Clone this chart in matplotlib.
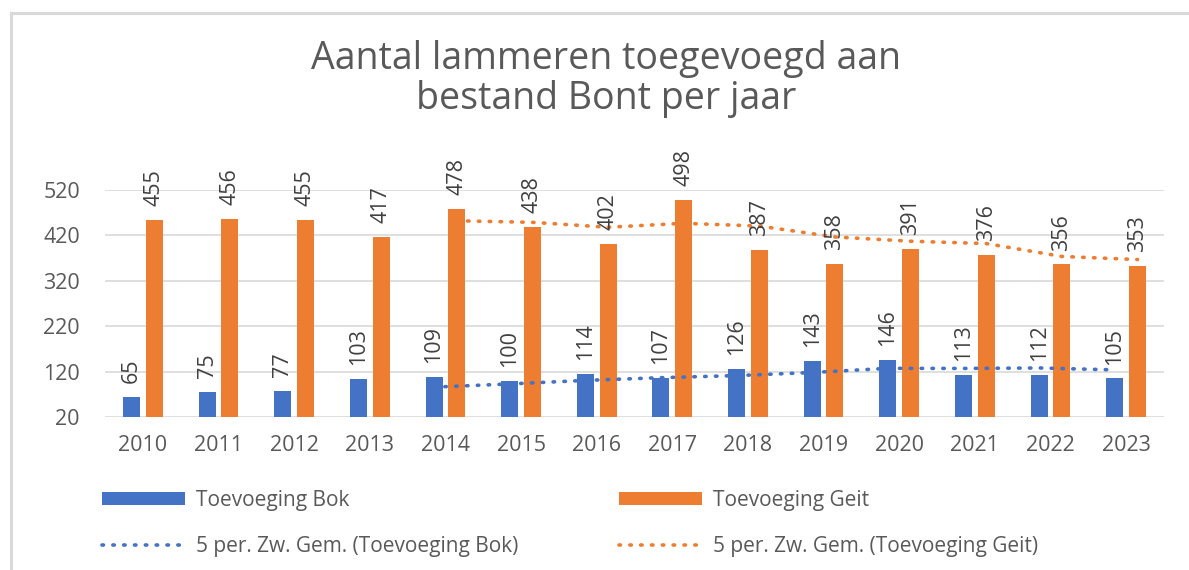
import matplotlib
matplotlib.use("Agg")
import matplotlib.pyplot as plt
import numpy as np
import pandas as pd
from matplotlib.lines import Line2D
from matplotlib.patches import Patch

years = ["2010", "2011", "2012", "2013", "2014", "2015", "2016", "2017",
         "2018", "2019", "2020", "2021", "2022", "2023"]
bok = [65, 75, 77, 103, 109, 100, 114, 107, 126, 143, 146, 113, 112, 105]
geit = [455, 456, 455, 417, 478, 438, 402, 498, 387, 358, 391, 376, 356, 353]
yticks = [20, 120, 220, 320, 420, 520]

title = "Aantal lammeren toegevoegd aan\nbestand Bont per jaar"
lbl_bok = "Toevoeging Bok"
lbl_geit = "Toevoeging Geit"
lbl_ma_bok = "5 per. Zw. Gem. (Toevoeging Bok)"
lbl_ma_geit = "5 per. Zw. Gem. (Toevoeging Geit)"

BLUE = "#4472C4"
ORANGE = "#ED7D31"
TXT = "#595959"
GRID = "#D9D9D9"

plt.rcParams['font.family'] = ['Open Sans', 'DejaVu Sans']

fig = plt.figure(figsize=(11.89, 5.70), dpi=100)
ax = fig.add_axes([105/1189, 1-417/570, 1059/1189, 227/570])

x = np.arange(len(years))
w = 0.225
off = 0.15
ax.bar(x - off, bok, w, color=BLUE, zorder=3)
ax.bar(x + off, geit, w, color=ORANGE, zorder=3)

ma_bok = pd.Series(bok).rolling(5).mean()
ma_geit = pd.Series(geit).rolling(5).mean()
ls = (0, (0.4, 2.6))
ax.plot(x - off, ma_bok, color=BLUE, lw=2.6, linestyle=ls,
        dash_capstyle='round', zorder=4)
ax.plot(x + off, ma_geit, color=ORANGE, lw=2.6, linestyle=ls,
        dash_capstyle='round', zorder=4)

for xs, vals in ((x - off, bok), (x + off, geit)):
    for xi, v in zip(xs, vals):
        ax.annotate(str(v), (xi, v), xytext=(0, 10), textcoords='offset points',
                    rotation=90, ha='center', va='bottom', fontsize=15.5,
                    color='#404040', annotation_clip=False, zorder=5)

ax.set_xlim(-0.5, len(years) - 0.5)
ax.set_ylim(20, 520)
ax.set_yticks(yticks)
ax.set_xticks(x)
ax.set_xticklabels(years)
ax.tick_params(axis='both', length=0, labelsize=15.5, labelcolor=TXT)
ax.tick_params(axis='y', pad=18)
ax.tick_params(axis='x', pad=13)
ax.grid(axis='y', color=GRID, lw=1.2, zorder=0)
for s in ax.spines.values():
    s.set_visible(False)
ax.set_facecolor('none')

fig.text(606/1189, 1-79/570, title, ha='center', va='center',
         fontsize=27, color=TXT, linespacing=1.1)

h_bok = Patch(facecolor=BLUE)
h_geit = Patch(facecolor=ORANGE)
h_mab = Line2D([0], [0], color=BLUE, lw=2.6, linestyle=ls, dash_capstyle='round')
h_mag = Line2D([0], [0], color=ORANGE, lw=2.6, linestyle=ls, dash_capstyle='round')

leg_kw = dict(loc='upper left', frameon=False, fontsize=15,
              handlelength=4.0, handleheight=0.6, handletextpad=0.5,
              labelspacing=1.2, borderaxespad=0, borderpad=0)
leg1 = fig.legend([h_bok, h_mab], [lbl_bok, lbl_ma_bok],
                  bbox_to_anchor=(102/1189, 1-490/570), **leg_kw)
leg2 = fig.legend([h_geit, h_mag], [lbl_geit, lbl_ma_geit],
                  bbox_to_anchor=(619/1189, 1-490/570), **leg_kw)
for lg in (leg1, leg2):
    for t in lg.get_texts():
        t.set_color(TXT)

# outer chart border (light gray)
fig.add_artist(Line2D([11/1189, 1], [1-13/570, 1-13/570], color=GRID, lw=2.2,
                      transform=fig.transFigure))
fig.add_artist(Line2D([11/1189, 11/1189], [0, 1-13/570], color=GRID, lw=2.2,
                      transform=fig.transFigure))

fig.savefig("out.png", dpi=100)
